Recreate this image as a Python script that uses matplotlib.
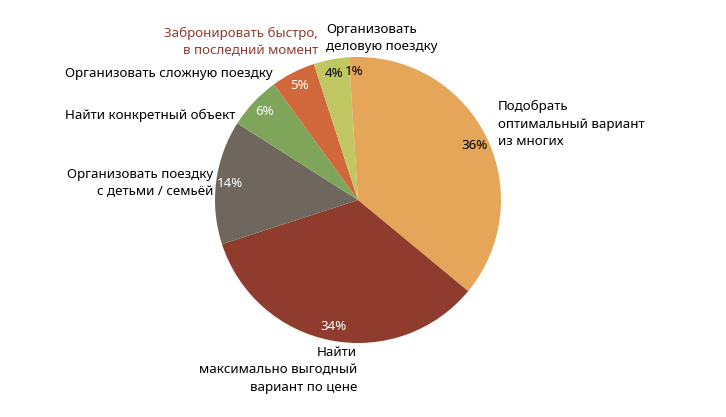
import matplotlib.pyplot as plt

# shares, clockwise from the top
labels = ["Подобрать\nоптимальный вариант\nиз многих",
          "Найти\nмаксимально выгодный\nвариант по цене",
          "Организовать поездку\nс детьми / семьёй",
          "Найти конкретный объект",
          "Организовать сложную поездку",
          "Забронировать быстро,\nв последний момент",
          "Организовать\nделовую поездку"]
shares = [36, 34, 14, 6, 5, 4, 1]
colors = ["#E5A65A", "#8F3C2E", "#6F675D", "#7EA55A", "#D0683C", "#C1C863", "#E5A65A"]
pct_colors = ["black", "white", "white", "white", "white", "black", "black"]

plt.rcParams['font.family'] = ['Noto Sans', 'DejaVu Sans']

W, H = 726, 417
fig = plt.figure(figsize=(W / 100, H / 100), dpi=100)
cx, cy, r = 358, 200, 143
ax = fig.add_axes([(cx - r) / W, (H - cy - r) / H, 2 * r / W, 2 * r / H])

wedges, texts, autotexts = ax.pie(shares, colors=colors, startangle=90, counterclock=False,
                                  autopct=lambda p: "%d%%" % round(p), pctdistance=0.9,
                                  textprops={'fontsize': 9.6})
for t, c in zip(autotexts, pct_colors):
    t.set_color(c)
ax.set_xlim(-1, 1)
ax.set_ylim(-1, 1)

# outer labels: (x px, y px, ha, colour)
label_pos = [(498, 124, 'left', 'black'),
             (357, 370, 'right', 'black'),
             (213, 183, 'right', 'black'),
             (235, 115, 'right', 'black'),
             (273, 73, 'right', 'black'),
             (318, 42, 'right', '#8F3C2E'),
             (326, 38, 'left', 'black')]
for text, (x, y, ha, c) in zip(labels, label_pos):
    fig.text(x / W, 1 - y / H, text, ha=ha, va='center', fontsize=9.6, color=c,
             linespacing=1.42)

fig.savefig("out.png", dpi=100)
